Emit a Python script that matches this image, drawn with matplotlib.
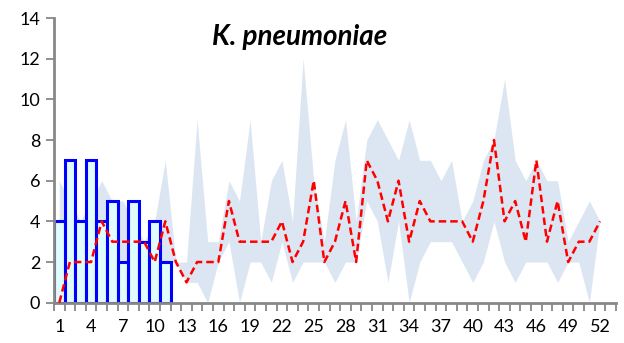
import numpy as np
import matplotlib
matplotlib.use("Agg")
import matplotlib.pyplot as plt
from matplotlib.ticker import MultipleLocator, FixedLocator

weeks = np.arange(1, 53)
# previous years: min / max band and mean line
band_min = [0, 1, 1, 1, 2, 1, 1, 2, 1, 1, 2, 2, 1, 1, 0, 2, 3, 0, 2, 2,
            1, 3, 1, 2, 2, 2, 1, 2, 2, 5, 4, 1, 4, 0, 2, 3, 3, 3, 2, 1,
            2, 4, 2, 1, 2, 2, 2, 1, 2, 2, 0, 4]
band_max = [6, 5, 4, 5, 6, 5, 5, 4, 3, 4, 7, 2, 2, 9, 3, 3, 6, 5, 9, 3,
            6, 7, 4, 12, 6, 3, 7, 9, 4, 8, 9, 8, 7, 9, 7, 7, 6, 7, 4, 5,
            7, 8, 11, 7, 6, 7, 6, 6, 3, 4, 5, 4]
mean_vals = [0, 2, 2, 2, 4, 3, 3, 3, 3, 2, 4, 2, 1, 2, 2, 2, 5, 3, 3, 3,
             3, 4, 2, 3, 6, 2, 3, 5, 2, 7, 6, 4, 6, 3, 5, 4, 4, 4, 4, 3,
             5, 8, 4, 5, 3, 7, 3, 5, 2, 3, 3, 4]
# current year
cur_weeks = np.arange(1, 12)
cur_vals = [4, 7, 4, 7, 4, 5, 2, 5, 3, 4, 2]

fig = plt.figure(figsize=(6.24, 3.43), dpi=100)
ax = fig.add_axes([0.0865, 0.1175, 0.9005, 0.83])

ax.fill_between(weeks, band_min, band_max, color="#DCE6F2", lw=0, zorder=1)
ax.bar(cur_weeks, cur_vals, width=1.0, color="#E0FBFB", edgecolor="#0000FF",
       linewidth=2.2, zorder=2)
ax.plot(weeks, mean_vals, color="#FF0000", ls=(0, (3, 1.6)), lw=1.8, zorder=3)

ax.set_xlim(0.5, 53.5)
ax.set_ylim(0, 14)
ax.yaxis.set_major_locator(MultipleLocator(2))
ax.xaxis.set_major_locator(FixedLocator(np.arange(1, 53, 3)))
ax.xaxis.set_minor_locator(FixedLocator(np.arange(0.5, 54, 1)))
ax.tick_params(axis="x", which="major", length=0, pad=12)
ax.tick_params(axis="x", which="minor", length=6, width=1.3, color="#888888")
ax.tick_params(axis="y", length=6, width=1.3, color="#888888", pad=4)
for lab in ax.get_xticklabels() + ax.get_yticklabels():
    lab.set_fontfamily("Lato")
    lab.set_fontsize(13)

for s in ["top", "right"]:
    ax.spines[s].set_visible(False)
for s in ["left", "bottom"]:
    ax.spines[s].set_color("#888888")
    ax.spines[s].set_linewidth(2)

fig.text(0.48, 0.892, "K. pneumoniae", ha="center", va="center",
         fontsize=20, fontweight="bold", fontstyle="italic", fontfamily="Lato")

fig.savefig("out.png", dpi=100)
